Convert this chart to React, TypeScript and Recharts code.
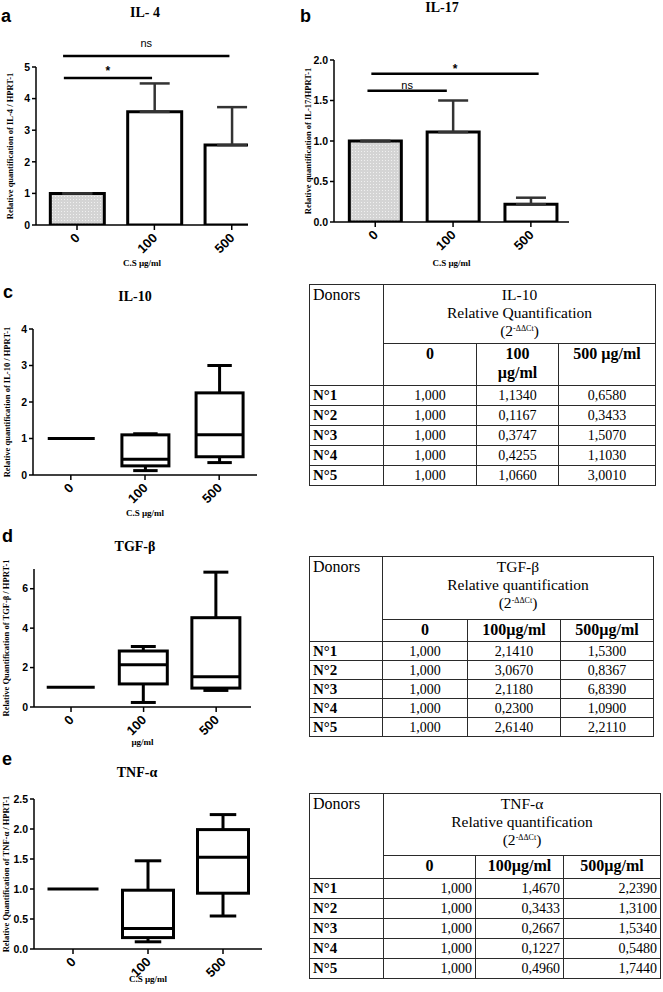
import React from "react";
import { BarChart, Bar, XAxis, YAxis, ErrorBar, Cell, ReferenceLine } from "recharts";

const SERIF = '"Liberation Serif", "Times New Roman", serif';
const SANS = '"Liberation Sans", Arial, sans-serif';

const doses = ["0", "100", "500"];

// a - IL-4, mean + upper SEM
const il4Mean = [1, 3.58, 2.53];
const il4Sem = [0, 0.9, 1.2];
const il4SigText = ["ns", "*"];
const il4SigFrom = [-0.18, -0.17];
const il4SigTo = [1.97, 0.97];
const il4SigY = [5.35, 4.65];

// b - IL-17
const il17Mean = [1, 1.11, 0.22];
const il17Sem = [0, 0.39, 0.08];
const il17SigText = ["*", "ns"];
const il17SigFrom = [-0.05, -0.1];
const il17SigTo = [2.1, 0.92];
const il17SigY = [1.83, 1.62];

// c - IL-10 box stats
const il10Min = [1, 0.12, 0.34];
const il10Q1 = [1, 0.25, 0.5];
const il10Med = [1, 0.43, 1.1];
const il10Q3 = [1, 1.1, 2.25];
const il10Max = [1, 1.13, 3.0];

// d - TGF-beta box stats
const tgfMin = [1, 0.23, 0.84];
const tgfQ1 = [1, 1.17, 0.96];
const tgfMed = [1, 2.14, 1.53];
const tgfQ3 = [1, 2.84, 4.53];
const tgfMax = [1, 3.07, 6.84];

// e - TNF-alpha box stats
const tnfMin = [1, 0.12, 0.55];
const tnfQ1 = [1, 0.19, 0.93];
const tnfMed = [1, 0.34, 1.53];
const tnfQ3 = [1, 0.98, 1.99];
const tnfMax = [1, 1.47, 2.24];

// tables
const donors = ["N°1", "N°2", "N°3", "N°4", "N°5"];
const il10T0 = ["1,000", "1,000", "1,000", "1,000", "1,000"];
const il10T100 = ["1,1340", "0,1167", "0,3747", "0,4255", "1,0660"];
const il10T500 = ["0,6580", "0,3433", "1,5070", "1,1030", "3,0010"];
const tgfT0 = ["1,000", "1,000", "1,000", "1,000", "1,000"];
const tgfT100 = ["2,1410", "3,0670", "2,1180", "0,2300", "2,6140"];
const tgfT500 = ["1,5300", "0,8367", "6,8390", "1,0900", "2,2110"];
const tnfT0 = ["1,000", "1,000", "1,000", "1,000", "1,000"];
const tnfT100 = ["1,4670", "0,3433", "0,2667", "0,1227", "0,4960"];
const tnfT500 = ["2,2390", "1,3100", "1,5340", "0,5480", "1,7440"];

const AX = { stroke: "#000", strokeWidth: 1.5 };
const YTICK = { fontFamily: SANS, fontSize: 10.5, fontWeight: 700, fill: "#000" };

function XTick(props: any) {
  const { x, y, payload } = props;
  return (
    <g transform={`translate(${x - 2},${y + 1})`}>
      <text x={0} y={0} dy={8} textAnchor="end" transform="rotate(-45)"
        fontFamily={SANS} fontSize={13} fontWeight={700} fill="#000">
        {doses[payload.value]}
      </text>
    </g>
  );
}

const yLabel = (text: string, lx: number) => (p: any) => {
  const vb = p.viewBox;
  const cy = vb.y + vb.height / 2;
  return (
    <text x={lx} y={cy} transform={`rotate(-90 ${lx} ${cy})`} textAnchor="middle"
      style={{ fontFamily: SERIF, fontSize: 8.5, fontWeight: 700, fill: "#000" }}>
      {text}
    </text>
  );
};

const xLabel = (text: string, dy: number) => (p: any) => {
  const vb = p.viewBox;
  return (
    <text x={vb.x + vb.width / 2} y={vb.y + dy} textAnchor="middle"
      style={{ fontFamily: SERIF, fontSize: 9, fontWeight: 700, fill: "#000" }}>
      {text}
    </text>
  );
};

function BoxShape(props: any) {
  const { x, width } = props;
  const d = props.payload ?? props;
  const top = Math.min(props.y, props.y + props.height);
  const h = Math.abs(props.height || 0);
  const cx = x + width / 2;
  const sw = 3;
  if (h < 0.5 || d.q3 === d.q1) {
    return <line x1={x} x2={x + width} y1={top} y2={top} stroke="#000" strokeWidth={sw} />;
  }
  const k = h / (d.q3 - d.q1);
  const py = (v: number) => top + (d.q3 - v) * k;
  const cap = width * 0.26;
  return (
    <g stroke="#000" strokeWidth={sw} fill="none">
      <line x1={cx} x2={cx} y1={py(d.max)} y2={top} />
      <line x1={cx - cap} x2={cx + cap} y1={py(d.max)} y2={py(d.max)} />
      <line x1={cx} x2={cx} y1={top + h} y2={py(d.min)} />
      <line x1={cx - cap} x2={cx + cap} y1={py(d.min)} y2={py(d.min)} />
      <rect x={x} y={top} width={width} height={h} fill="#fff" />
      <line x1={x} x2={x + width} y1={py(d.med)} y2={py(d.med)} />
    </g>
  );
}

function MeanPanel(p: any) {
  const data = doses.map((_, i) => ({ x: i, mean: p.mean[i], err: [0, p.sem[i]] }));
  return (
    <div style={{ position: "absolute", left: p.left, top: p.top }}>
      <BarChart width={p.width} height={p.height} data={data} margin={p.margin}>
        <defs>
          <pattern id={p.id + "dots"} width="3" height="3" patternUnits="userSpaceOnUse">
            <rect width="3" height="3" fill="#d4d4d4" />
            <rect x="1" y="1" width="1" height="1" fill="#f0f0f0" />
          </pattern>
        </defs>
        <XAxis type="number" dataKey="x" domain={p.xDomain} ticks={[0, 1, 2]} allowDataOverflow
          axisLine={AX} tickLine={AX} tickSize={5} tick={XTick} height={30} interval={0}
          label={xLabel(p.xText, p.xDy)} />
        <YAxis domain={[0, p.yMax]} ticks={p.yTicks} axisLine={AX} tickLine={AX} tickSize={4}
          tickMargin={2} width={30} tick={YTICK} allowDataOverflow interval={0}
          tickFormatter={(v: number) => (p.dec ? v.toFixed(1) : String(v))}
          label={yLabel(p.yText, p.yLx)} />
        {p.sigText.map((t: string, i: number) => (
          <ReferenceLine key={t + i} ifOverflow="visible" stroke="#000" strokeWidth={2.5}
            segment={[{ x: p.sigFrom[i], y: p.sigY[i] }, { x: p.sigTo[i], y: p.sigY[i] }]}
            label={{ value: t, position: "top", offset: p.sigGap[i], fill: "#000", fontFamily: SANS, fontSize: t === "*" ? 12 : 11, fontWeight: t === "*" ? 700 : 400 }} />
        ))}
        <Bar dataKey="mean" barSize={p.barSize} stroke="#000" strokeWidth={3} isAnimationActive={false}>
          {data.map((_, i) => (
            <Cell key={i} fill={i === 0 ? `url(#${p.id}dots)` : "#fff"} />
          ))}
          <ErrorBar dataKey="err" direction="y" width={15} stroke="#333" strokeWidth={2.5} />
        </Bar>
      </BarChart>
    </div>
  );
}

function BoxPanel(p: any) {
  const data = doses.map((_, i) => ({
    x: i, min: p.min[i], q1: p.q1[i], med: p.med[i], q3: p.q3[i], max: p.max[i],
  }));
  return (
    <div style={{ position: "absolute", left: p.left, top: p.top }}>
      <BarChart width={p.width} height={p.height} data={data} margin={p.margin}>
        <XAxis type="number" dataKey="x" domain={p.xDomain} ticks={[0, 1, 2]} allowDataOverflow
          axisLine={AX} tickLine={AX} tickSize={5} tick={XTick} height={30} interval={0}
          label={xLabel(p.xText, p.xDy)} />
        <YAxis domain={[0, p.yMax]} ticks={p.yTicks} axisLine={AX} tickLine={AX} tickSize={4}
          tickMargin={2} width={30} tick={YTICK} allowDataOverflow interval={0}
          tickFormatter={(v: number) => (p.dec ? v.toFixed(1) : String(v))}
          label={yLabel(p.yText, p.yLx)} />
        <Bar dataKey={(d: any) => [d.q1, d.q3]} barSize={p.barSize} shape={BoxShape} isAnimationActive={false} />
      </BarChart>
    </div>
  );
}

function DonorTable(p: any) {
  const cell: React.CSSProperties = { border: "1.5px solid #2a2a2a", padding: 0 };
  const total = p.widths.reduce((a: number, b: number) => a + b, 0);
  return (
    <table style={{
      position: "absolute", left: p.left, top: p.top, width: total, borderCollapse: "collapse",
      tableLayout: "fixed", fontFamily: SERIF, fontSize: 14, color: "#000",
    }}>
      <colgroup>
        {p.widths.map((w: number, i: number) => <col key={i} style={{ width: w }} />)}
      </colgroup>
      <tbody>
        <tr style={{ height: p.headH }}>
          <td rowSpan={2} style={{ ...cell, verticalAlign: "top", paddingLeft: 3, paddingTop: 1, lineHeight: "18px", fontSize: 16 }}>Donors</td>
          <td colSpan={3} style={{ ...cell, textAlign: "center", verticalAlign: "top", lineHeight: "18px", fontSize: 15.5, paddingTop: 1 }}>
            <div>{p.name}</div>
            <div>{p.quant}</div>
            <div>
              (2<span style={{ fontSize: 8, lineHeight: "8px", display: "inline-block", verticalAlign: "top", marginTop: 3 }}>-ΔΔCt</span>)
            </div>
          </td>
        </tr>
        <tr style={{ height: p.subH }}>
          {p.subs.map((s: string, i: number) => (
            <td key={i} style={{ ...cell, fontWeight: 700, textAlign: "center", verticalAlign: "top", whiteSpace: "pre-line", lineHeight: "19px", fontSize: 16 }}>{s}</td>
          ))}
        </tr>
        {donors.map((d, r) => (
          <tr key={d} style={{ height: p.rowH }}>
            <td style={{ ...cell, fontWeight: 700, paddingLeft: 3, lineHeight: "15px", fontSize: 15 }}>{d}</td>
            {p.cols.map((c: string[], j: number) => (
              <td key={j} style={{ ...cell, textAlign: p.align, paddingRight: p.align === "right" ? 3 : 0, lineHeight: "15px" }}>{c[r]}</td>
            ))}
          </tr>
        ))}
      </tbody>
    </table>
  );
}

function Letter({ left, top, children }: any) {
  return (
    <div style={{ position: "absolute", left, top, fontFamily: SANS, fontWeight: 700, fontSize: 18, lineHeight: "18px" }}>{children}</div>
  );
}

function Title({ cx, top, children }: any) {
  return (
    <div style={{ position: "absolute", left: cx - 100, width: 200, top, textAlign: "center", fontFamily: SERIF, fontWeight: 700, fontSize: 14, lineHeight: "14px" }}>{children}</div>
  );
}

export default function App() {
  return (
    <div style={{ position: "absolute", left: 0, top: 0, width: 663, height: 992, background: "#fff", overflow: "hidden" }}>
      <Letter left={1} top={7}>a</Letter>
      <Title cx={145} top={6}>IL- 4</Title>
      <MeanPanel id="a" left={0} top={0} width={300} height={275}
        margin={{ top: 67, right: 52, left: 6, bottom: 20 }}
        mean={il4Mean} sem={il4Sem} yMax={5} yTicks={[0, 1, 2, 3, 4, 5]} xDomain={[-0.53, 2.21]}
        barSize={54} sigText={il4SigText} sigFrom={il4SigFrom} sigTo={il4SigTo} sigY={il4SigY} sigGap={[9, 3]}
        yText="Relative quantification of IL-4 / HPRT-1" yLx={13} xText="C.S µg/ml" xDy={41} />

      <Letter left={300} top={7}>b</Letter>
      <Title cx={442} top={1}>IL-17</Title>
      <MeanPanel id="b" left={300} top={0} width={300} height={275}
        margin={{ top: 60, right: 31, left: 4, bottom: 23 }}
        mean={il17Mean} sem={il17Sem} yMax={2} yTicks={[0, 0.5, 1, 1.5, 2]} dec xDomain={[-0.53, 2.49]}
        barSize={52} sigText={il17SigText} sigFrom={il17SigFrom} sigTo={il17SigTo} sigY={il17SigY} sigGap={[1, 2]}
        yText="Relative quantification of IL-17/HPRT-1" yLx={11} xText="C.S µg/ml" xDy={44} />

      <Letter left={3} top={283}>c</Letter>
      <Title cx={135} top={290}>IL-10</Title>
      <BoxPanel left={0} top={280} width={300} height={245}
        margin={{ top: 49, right: 43, left: 3, bottom: 20 }}
        min={il10Min} q1={il10Q1} med={il10Med} q3={il10Q3} max={il10Max}
        yMax={4} yTicks={[0, 1, 2, 3, 4]} xDomain={[-0.51, 2.51]} barSize={47}
        yText="Relative quantification of IL-10 / HPRT-1" yLx={10} xText="C.S µg/ml" xDy={41} />
      <DonorTable left={309} top={284} widths={[74, 93, 82, 97]} headH={59} subH={42} rowH={20}
        name="IL-10" quant="Relative Quantification" subs={["0", "100\nµg/ml", "500 µg/ml"]}
        cols={[il10T0, il10T100, il10T500]} align="center" />

      <Letter left={2} top={527}>d</Letter>
      <Title cx={135} top={540}>TGF-β</Title>
      <BoxPanel left={0} top={520} width={300} height={230}
        margin={{ top: 49, right: 49, left: 4, bottom: 13 }}
        min={tgfMin} q1={tgfQ1} med={tgfMed} q3={tgfQ3} max={tgfMax}
        yMax={7} yTicks={[0, 2, 4, 6]} xDomain={[-0.51, 2.48]} barSize={48}
        yText="Relative Quantification of TGF-β / HPRT-1" yLx={9} xText="µg/ml" xDy={38} />
      <DonorTable left={309} top={556} widths={[73, 85, 93, 93]} headH={63} subH={22} rowH={19}
        name="TGF-β" quant="Relative quantification" subs={["0", "100µg/ml", "500µg/ml"]}
        cols={[tgfT0, tgfT100, tgfT500]} align="center" />

      <Letter left={2} top={750}>e</Letter>
      <Title cx={137} top={766}>TNF-α</Title>
      <BoxPanel left={0} top={750} width={300} height={242}
        margin={{ top: 49, right: 38, left: 4, bottom: 13 }}
        min={tnfMin} q1={tnfQ1} med={tnfMed} q3={tnfQ3} max={tnfMax}
        yMax={2.5} yTicks={[0, 0.5, 1, 1.5, 2, 2.5]} dec xDomain={[-0.52, 2.52]} barSize={51}
        yText="Relative Quantification of TNF-α / HPRT-1" yLx={9} xText="C.S µg/ml" xDy={33} />
      <DonorTable left={309} top={793} widths={[74, 92, 88, 97]} headH={62} subH={23} rowH={20}
        name="TNF-α" quant="Relative quantification" subs={["0", "100µg/ml", "500µg/ml"]}
        cols={[tnfT0, tnfT100, tnfT500]} align="right" />
    </div>
  );
}
